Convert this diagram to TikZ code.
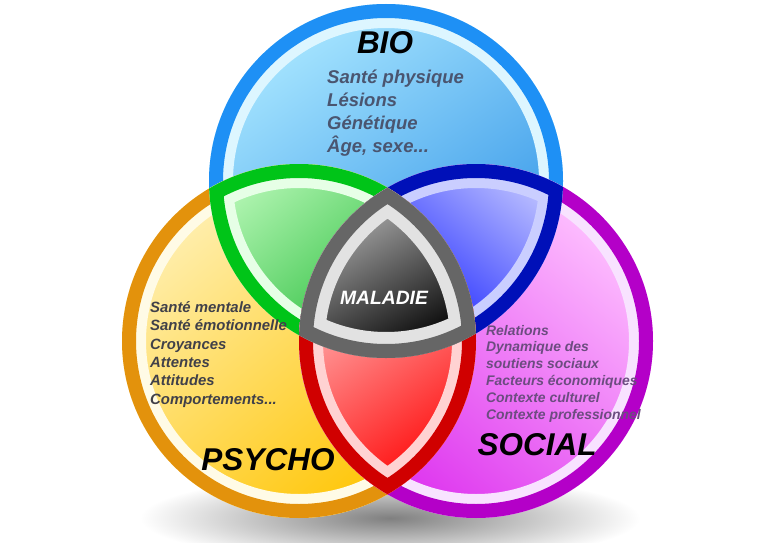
\documentclass[tikz,border=0pt]{standalone}
\usepackage{fontspec}
\setmainfont{Liberation Sans}
\usetikzlibrary{positioning}

% circle colours: band, pale ring, light and dark fill
\definecolor{bioband}{HTML}{1E90F5}
\definecolor{biopale}{HTML}{DDF6FF}
\definecolor{biolight}{HTML}{A8E6FF}
\definecolor{biodark}{HTML}{2A8FE6}
\definecolor{psychoband}{HTML}{E3920C}
\definecolor{psychopale}{HTML}{FFFBE6}
\definecolor{psycholight}{HTML}{FFF0B4}
\definecolor{psychodark}{HTML}{FFC400}
\definecolor{socialband}{HTML}{B400C8}
\definecolor{socialpale}{HTML}{F8E2FF}
\definecolor{sociallight}{HTML}{FFC4FF}
\definecolor{socialdark}{HTML}{DC2CEE}
% lens colours
\definecolor{greenband}{HTML}{00C418}
\definecolor{greenpale}{HTML}{E6FFE6}
\definecolor{greenlight}{HTML}{B4F6B4}
\definecolor{greendark}{HTML}{2CBE3E}
\definecolor{blueband}{HTML}{0010B8}
\definecolor{bluepale}{HTML}{CACEFF}
\definecolor{bluelight}{HTML}{BCC0FF}
\definecolor{bluedark}{HTML}{0A14FF}
\definecolor{redband}{HTML}{D00000}
\definecolor{redpale}{HTML}{FFD2D2}
\definecolor{redlight}{HTML}{FF9C9C}
\definecolor{reddark}{HTML}{FF0000}
\definecolor{coreband}{HTML}{666666}
\definecolor{corepale}{HTML}{E2E2E2}
\definecolor{corelight}{HTML}{BDBDBD}
\definecolor{coredark}{HTML}{000000}
% text colours
\definecolor{biotext}{HTML}{4A5570}
\definecolor{psychotext}{HTML}{404049}
\definecolor{socialtext}{HTML}{6C4C80}

\newcommand{\biocircle}{(386,181) circle[radius=177]}
\newcommand{\psychocircle}{(299,341) circle[radius=177]}
\newcommand{\socialcircle}{(476,341) circle[radius=177]}

\begin{document}
\begin{tikzpicture}[
      x=1pt, y=-1pt,
      paleband/.style={line width=48pt},
      colorband/.style={line width=28pt},
      coreringpale/.style={line width=52pt},
      title/.style={font=\fontsize{31.5}{32}\selectfont\bfseries\itshape, text=black, inner sep=0pt, anchor=base},
      biolist/.style={font=\fontsize{18.5}{23}\selectfont\bfseries\itshape, text=biotext, align=left, inner sep=0pt, anchor=base west},
      psycholist/.style={font=\fontsize{14.9}{18.3}\selectfont\bfseries\itshape, text=psychotext, align=left, inner sep=0pt, anchor=base west},
      sociallist/.style={font=\fontsize{13.9}{16.8}\selectfont\bfseries\itshape, text=socialtext, align=left, inner sep=0pt, anchor=base west}
    ]
      \useasboundingbox (0,0) rectangle (768,543);

      % Shadow under the circles
      \shade[inner color=black!50, outer color=white] (390,518) ellipse (250 and 45);

      % Main circles
      \shade[top color=biolight, bottom color=biodark, shading angle=35] \biocircle;
      \begin{scope}
        \clip \biocircle;
        \draw[paleband, biopale] \biocircle;
        \draw[colorband, bioband] \biocircle;
      \end{scope}

      \shade[top color=psycholight, bottom color=psychodark, shading angle=40] \psychocircle;
      \begin{scope}
        \clip \psychocircle;
        \draw[paleband, psychopale] \psychocircle;
        \draw[colorband, psychoband] \psychocircle;
      \end{scope}

      \shade[top color=sociallight, bottom color=socialdark, shading angle=-40] \socialcircle;
      \begin{scope}
        \clip \socialcircle;
        \draw[paleband, socialpale] \socialcircle;
        \draw[colorband, socialband] \socialcircle;
      \end{scope}

      % Pairwise overlaps
      \begin{scope}
        \clip \biocircle;
        \clip \psychocircle;
        \shade[top color=greenlight, bottom color=greendark, shading angle=40] (205,160) rectangle (400,360);
        \draw[paleband, greenpale] \biocircle \psychocircle;
        \draw[colorband, greenband] \biocircle \psychocircle;
      \end{scope}

      \begin{scope}
        \clip \biocircle;
        \clip \socialcircle;
        \shade[top color=bluelight, bottom color=bluedark, shading angle=-40] (370,160) rectangle (565,360);
        \draw[paleband, bluepale] \biocircle \socialcircle;
        \draw[colorband, blueband] \biocircle \socialcircle;
      \end{scope}

      \begin{scope}
        \clip \psychocircle;
        \clip \socialcircle;
        \shade[top color=redlight, bottom color=reddark, shading angle=35] (299,300) rectangle (476,497);
        \draw[paleband, redpale] \psychocircle \socialcircle;
        \draw[colorband, redband] \psychocircle \socialcircle;
      \end{scope}

      % Centre overlap
      \begin{scope}
        \clip \biocircle;
        \clip \psychocircle;
        \clip \socialcircle;
        \shade[top color=corelight, bottom color=coredark, shading angle=30] (300,185) rectangle (472,360);
        \draw[coreringpale, corepale] \biocircle \psychocircle \socialcircle;
        \draw[colorband, coreband] \biocircle \psychocircle \socialcircle;
      \end{scope}

      % Titles
      \node[title] (biotitle) at (385,53) {BIO};
      \node[title] (psychotitle) at (268,470) {PSYCHO};
      \node[title] (socialtitle) at (537,455) {SOCIAL};
      \node[title, font=\fontsize{19.3}{20}\selectfont\bfseries\itshape, text=white] (maladie) at (384,304) {MALADIE};

      % Factor lists (anchored on their last line)
      \node[biolist] (biofactors) at (327,152)
        {Santé physique\\ Lésions\\ Génétique\\ Âge, sexe...};
      \node[psycholist] (psychofactors) at (150,404)
        {Santé mentale\\ Santé émotionnelle\\ Croyances\\ Attentes\\ Attitudes\\ Comportements...};
      \node[sociallist] (socialfactors) at (486,419)
        {Relations\\ Dynamique des\\ soutiens sociaux\\ Facteurs économiques\\ Contexte culturel\\ Contexte professionnel};
    \end{tikzpicture}
\end{document}
